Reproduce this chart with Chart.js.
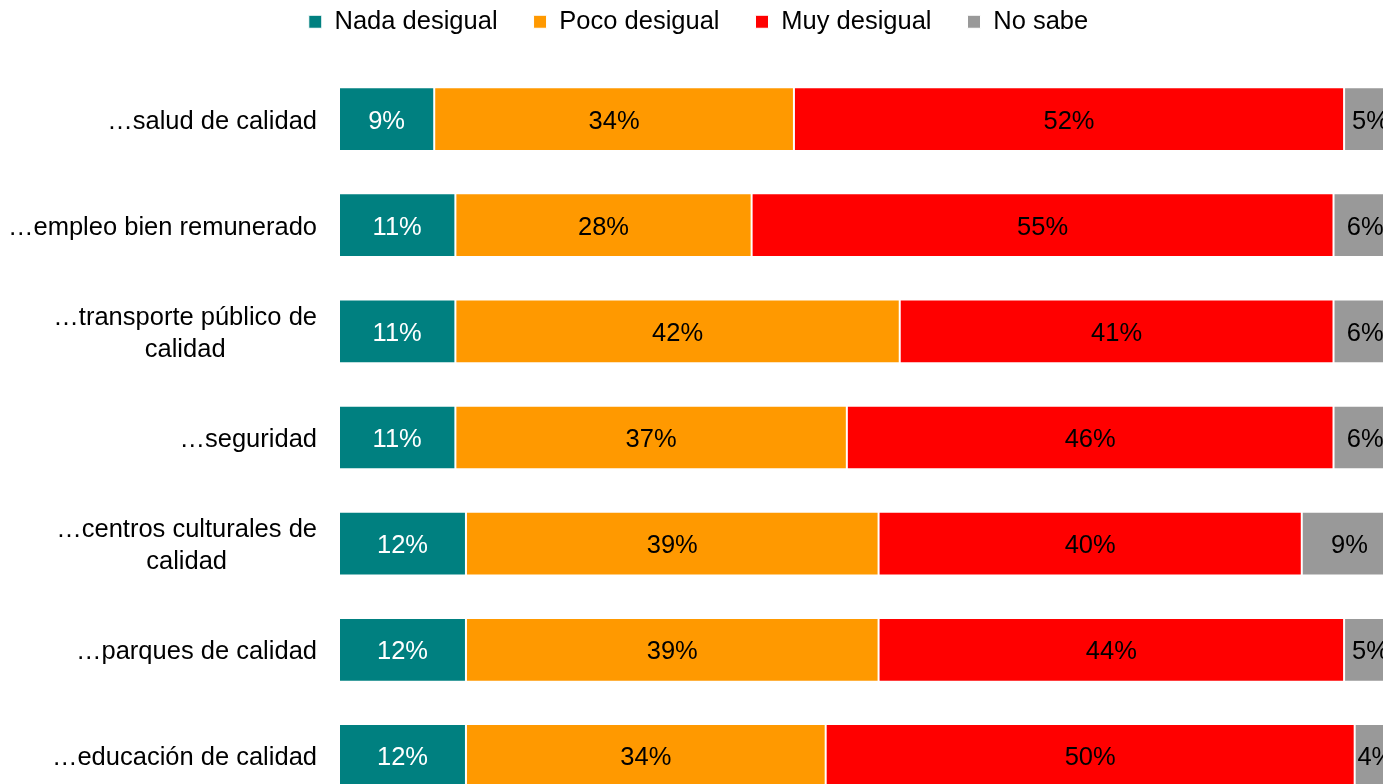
<!DOCTYPE html>
<html><head><meta charset="utf-8">
<script src="https://cdn.jsdelivr.net/npm/chart.js@4/dist/chart.umd.min.js"></script>
<style>
html,body{margin:0;padding:0;background:#fff;overflow:hidden;}
#wrap{position:relative;width:1383px;height:784px;overflow:hidden;background:#fff;}
#box{position:absolute;left:0;top:-27px;width:1411px;height:836px;}
</style></head><body>
<div id="wrap"><div id="box"><canvas id="c"></canvas></div></div>
<script>
const categories = [
  '…salud de calidad',
  '…empleo bien remunerado',
  ['…transporte público de', 'calidad'],
  '…seguridad',
  ['…centros culturales de', 'calidad'],
  '…parques de calidad',
  '…educación de calidad'
];
const seriesNames = ['Nada desigual', 'Poco desigual', 'Muy desigual', 'No sabe'];
const nadaDesigual = [9, 11, 11, 11, 12, 12, 12];
const pocoDesigual = [34, 28, 42, 37, 39, 39, 34];
const muyDesigual  = [52, 55, 41, 46, 40, 44, 50];
const noSabe       = [5, 6, 6, 6, 9, 5, 4];
const seriesColors = ['#008080', '#FF9900', '#FF0000', '#999999'];
const labelColors  = ['#FFFFFF', '#000000', '#000000', '#000000'];

const FONT = "'Liberation Sans', Arial, sans-serif";
const FS = 25.5;
Chart.defaults.font.family = FONT;
Chart.defaults.font.size = FS;
Chart.defaults.color = '#000';

const legendSpacer = {
  id: 'legendSpacer',
  beforeInit(chart) {
    const fit = chart.legend.fit;
    chart.legend.fit = function () { fit.call(this); this.height += 21.5; };
  }
};

const barLabels = {
  id: 'barLabels',
  afterDatasetsDraw(chart) {
    const ctx = chart.ctx;
    ctx.save();
    ctx.font = FS + 'px ' + FONT;
    ctx.textAlign = 'center';
    ctx.textBaseline = 'middle';
    chart.data.datasets.forEach((ds, di) => {
      const meta = chart.getDatasetMeta(di);
      meta.data.forEach((bar, i) => {
        const v = ds.data[i];
        ctx.fillStyle = labelColors[di];
        ctx.fillText(v + '%', (bar.x + bar.base) / 2, bar.y + 2.5);
      });
    });
    ctx.restore();
  }
};

const yLabels = {
  id: 'yLabels',
  afterDraw(chart) {
    const ctx = chart.ctx;
    const scale = chart.scales.y;
    const rightEdge = chart.chartArea.left - 22;
    const lh = 32.5;
    ctx.save();
    ctx.font = FS + 'px ' + FONT;
    ctx.fillStyle = '#000';
    ctx.textAlign = 'center';
    ctx.textBaseline = 'middle';
    categories.forEach((lab, i) => {
      const lines = Array.isArray(lab) ? lab : [lab];
      const maxW = Math.max(...lines.map(l => ctx.measureText(l).width));
      const cx = rightEdge - maxW / 2;
      const cy = scale.getPixelForTick(i);
      lines.forEach((l, k) => {
        ctx.fillText(l, cx, cy + 2.5 + (k - (lines.length - 1) / 2) * lh);
      });
    });
    ctx.restore();
  }
};

const allSeries = [nadaDesigual, pocoDesigual, muyDesigual, noSabe];

new Chart(document.getElementById('c'), {
  type: 'bar',
  data: {
    labels: categories,
    datasets: allSeries.map((d, i) => ({
      label: seriesNames[i],
      data: d,
      backgroundColor: seriesColors[i],
      borderColor: '#FFFFFF',
      borderWidth: 1,
      borderSkipped: false,
      barPercentage: 0.6,
      categoryPercentage: 1.0
    }))
  },
  options: {
    indexAxis: 'y',
    responsive: true,
    maintainAspectRatio: false,
    devicePixelRatio: 1,
    animation: false,
    layout: { padding: { left: 0, right: 14, top: 0, bottom: 0 } },
    scales: {
      x: { stacked: true, min: 0, max: 100, display: false },
      y: {
        stacked: true,
        display: true,
        grid: { display: false },
        border: { display: false },
        ticks: { display: false },
        afterFit(s) { s.width = 339; }
      }
    },
    plugins: {
      legend: {
        position: 'top',
        align: 'center',
        labels: { boxWidth: 13, boxHeight: 13, padding: 36, color: '#000', font: { size: FS } }
      },
      tooltip: { enabled: false }
    }
  },
  plugins: [legendSpacer, barLabels, yLabels]
});
</script>
</body></html>
